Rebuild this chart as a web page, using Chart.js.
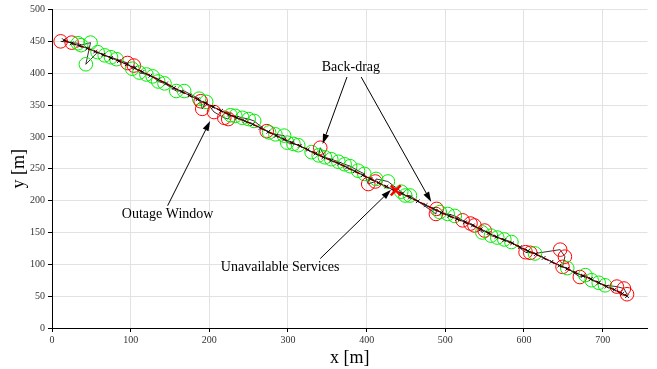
<!DOCTYPE html>
<html>
<head>
<meta charset="utf-8">
<script src="https://cdn.jsdelivr.net/npm/chart.js@4"></script>
<style>
  html, body { margin: 0; padding: 0; background: #fff; }
  #wrap { width: 657px; height: 369px; }
</style>
</head>
<body>
<div id="wrap"><canvas id="trackChart" width="657" height="369"></canvas></div>
<script>
// estimated trajectory (x markers)
const trajX = [15, 25, 35, 45, 55, 65, 75, 85, 95, 105, 115, 125, 135, 145, 155, 165, 175, 185, 195, 205,
  215, 225, 235, 245, 255, 265, 275, 285, 295, 305, 315, 325, 335, 345, 355, 365, 375, 385, 395, 405,
  415, 425, 435, 445, 455, 465, 475, 485, 495, 505, 515, 525, 535, 545, 555, 565, 575, 585, 595, 605,
  615, 625, 635, 645, 655, 665, 675, 685, 695, 705, 715, 725, 731];
const trajY = [452, 447, 443, 439, 434, 429, 424, 419, 414, 408, 402, 396, 390, 384, 377, 371, 365, 359, 353, 347,
  341, 335, 330, 325, 320, 314, 308, 302, 296, 291, 286, 280, 274, 268, 263, 258, 252, 246, 240, 234,
  228, 222, 216, 211, 205, 199, 193, 187, 181, 176, 171, 166, 161, 155, 149, 143, 138, 133, 127, 121,
  116, 110, 104, 98, 93, 87, 82, 77, 71, 65, 60, 54, 50];

// position fixes, in time order; 'g' = available, 'r' = outage
const measX = [11, 25, 33, 37, 49, 43, 58, 67, 75, 82, 96, 102, 104, 111, 120, 128, 135, 143, 158, 168,
  187, 189, 191, 196, 206, 219, 224, 227, 233, 242, 250, 257, 273, 276, 284, 295, 299, 307, 313, 330,
  339, 341, 347, 355, 364, 372, 379, 389, 397, 402, 411, 412, 427, 444, 449, 455, 488, 489, 493, 503,
  512, 522, 532, 537, 547, 550, 558, 566, 575, 584, 602, 608, 614, 646, 652, 649, 655, 671, 678, 686,
  695, 703, 718, 727, 731];
const measY = [450, 448, 447, 444, 448, 414, 433, 428, 425, 422, 416, 407, 412, 401, 398, 395, 387, 384, 372, 372,
  360, 356, 344, 355, 339, 330, 328, 334, 333, 330, 328, 325, 309, 307, 304, 302, 291, 289, 287, 276,
  271, 283, 268, 265, 261, 257, 254, 247, 242, 226, 230, 234, 230, 214, 208, 208, 179, 187, 182, 179,
  176, 169, 164, 161, 150, 153, 145, 142, 139, 135, 119, 118, 117, 123, 112, 96, 94, 80, 83, 75,
  71, 67, 65, 62, 53];
const measState = ['r','r','g','g','g', 'g','g','g','g','g', 'r','g','r','g','g', 'g','g','g','g','g',
  'g','r','r','g','r', 'r','r','g','g','g', 'g','g','r','g','g', 'g','g','g','g','g',
  'g','r','g','g','g', 'g','g','g','g','r', 'r','g','g','g','g', 'g','r','r','g','g',
  'g','r','r','r','g', 'r','g','g','g','g', 'r','r','g','r','r', 'r','g','r','g','g',
  'g','g','r','r','r'];

// unavailable services mark
const serviceX = [437];
const serviceY = [216];

const xTicks = [0, 100, 200, 300, 400, 500, 600, 700];
const yTicks = [0, 50, 100, 150, 200, 250, 300, 350, 400, 450, 500];

// annotations (data coordinates)
const notes = [
  { text: 'Back-drag', x: 380, y: 409 },
  { text: 'Outage Window', x: 147, y: 178 },
  { text: 'Unavailable Services', x: 290, y: 95 }
];
const arrows = [
  { from: [375, 394], to: [344, 289] },
  { from: [393, 394], to: [482, 198] },
  { from: [147, 192], to: [201, 325] },
  { from: [341, 109], to: [431, 217] }
];

const serif = "'Liberation Serif', 'DejaVu Serif', serif";
const toPts = (xs, ys) => xs.map((x, i) => ({ x: x, y: ys[i] }));

const annotate = {
  id: 'annotate',
  afterDatasetsDraw(chart) {
    const ctx = chart.ctx;
    const sx = chart.scales.x, sy = chart.scales.y;
    ctx.save();
    ctx.strokeStyle = '#000';
    ctx.fillStyle = '#000';
    ctx.lineWidth = 1;
    arrows.forEach(a => {
      const x1 = sx.getPixelForValue(a.from[0]), y1 = sy.getPixelForValue(a.from[1]);
      const x2 = sx.getPixelForValue(a.to[0]), y2 = sy.getPixelForValue(a.to[1]);
      const ang = Math.atan2(y2 - y1, x2 - x1);
      const len = 10, half = 3.2;
      const bx = x2 - len * Math.cos(ang), by = y2 - len * Math.sin(ang);
      ctx.beginPath();
      ctx.moveTo(x1, y1);
      ctx.lineTo(bx, by);
      ctx.stroke();
      ctx.beginPath();
      ctx.moveTo(x2, y2);
      ctx.lineTo(bx - half * Math.sin(ang), by + half * Math.cos(ang));
      ctx.lineTo(bx + half * Math.sin(ang), by - half * Math.cos(ang));
      ctx.closePath();
      ctx.fill();
    });
    ctx.font = '14px ' + serif;
    ctx.textAlign = 'center';
    ctx.textBaseline = 'middle';
    notes.forEach(n => {
      ctx.fillText(n.text, sx.getPixelForValue(n.x), sy.getPixelForValue(n.y));
    });
    ctx.restore();
  }
};

new Chart(document.getElementById('trackChart'), {
  type: 'scatter',
  data: {
    datasets: [
      {
        label: 'service',
        data: toPts(serviceX, serviceY),
        pointStyle: 'crossRot',
        pointRadius: 7,
        pointBorderWidth: 2.5,
        pointBorderColor: '#ff0000',
        showLine: false,
        order: 0
      },
      {
        label: 'estimate',
        data: toPts(trajX, trajY),
        showLine: true,
        borderColor: '#000',
        borderWidth: 0.8,
        pointStyle: 'crossRot',
        pointRadius: 2.6,
        pointBorderWidth: 0.9,
        pointBorderColor: '#000',
        order: 1
      },
      {
        label: 'reference',
        data: toPts(trajX, trajY),
        showLine: true,
        borderColor: '#ff0000',
        borderWidth: 1.6,
        borderDash: [5, 3],
        pointRadius: 0,
        order: 2
      },
      {
        label: 'fixes',
        data: toPts(measX, measY),
        showLine: true,
        borderColor: '#000',
        borderWidth: 0.8,
        pointStyle: 'circle',
        pointRadius: 6.8,
        pointBorderWidth: 1,
        pointBackgroundColor: 'rgba(0,0,0,0)',
        pointBorderColor: measState.map(s => s === 'g' ? '#00ee00' : '#ff0000'),
        order: 3
      }
    ]
  },
  options: {
    responsive: false,
    animation: false,
    events: [],
    layout: { padding: { top: 8, right: 4, left: 8, bottom: 0 } },
    plugins: {
      legend: { display: false },
      tooltip: { enabled: false }
    },
    scales: {
      x: {
        type: 'linear',
        min: 0,
        max: 757,
        afterBuildTicks: axis => { axis.ticks = xTicks.map(v => ({ value: v })); },
        afterFit: axis => { axis.height = 41; },
        grid: { color: '#e2e2e2', lineWidth: 1, tickLength: 4, drawTicks: true, tickColor: '#000' },
        border: { color: '#000', width: 1 },
        ticks: { color: '#333', font: { family: serif, size: 10 }, padding: 2, maxRotation: 0 },
        title: { display: true, text: 'x [m]', color: '#000', font: { family: serif, size: 18 }, padding: { top: 0, bottom: 0 } }
      },
      y: {
        type: 'linear',
        min: 0,
        max: 500,
        afterBuildTicks: axis => { axis.ticks = yTicks.map(v => ({ value: v })); },
        afterFit: axis => { axis.width = 44; },
        grid: { color: '#e2e2e2', lineWidth: 1, tickLength: 4, drawTicks: true, tickColor: '#000' },
        border: { color: '#000', width: 1 },
        ticks: { color: '#333', font: { family: serif, size: 10 }, padding: 3 },
        title: { display: true, text: 'y [m]', color: '#000', font: { family: serif, size: 18 }, padding: { top: 0, bottom: 0 } }
      }
    }
  },
  plugins: [annotate]
});
</script>
</body>
</html>
